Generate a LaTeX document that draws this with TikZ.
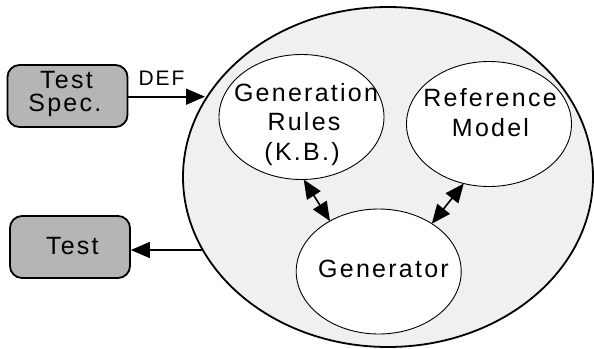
\documentclass[tikz,border=0pt]{standalone}
\usepackage{fontspec}
\setmainfont{Liberation Sans}[LetterSpace=9]
\usetikzlibrary{shapes.geometric,arrows.meta}
\definecolor{boxgray}{gray}{0.71}
\definecolor{sysgray}{gray}{0.94}
\begin{document}
\begin{tikzpicture}[x=1pt,y=-1pt,
  ell/.style={ellipse,draw,fill=white,line width=0.9pt,inner sep=0pt,outer sep=0pt,minimum width=165pt,minimum height=125pt},
  box/.style={draw,rounded corners=12pt,fill=boxgray,line width=1.8pt,minimum width=120pt,minimum height=62pt,inner sep=0pt},
  txt/.style={font=\fontsize{25}{30}\selectfont,inner sep=0pt,anchor=base},
  lbl/.style={font=\fontsize{21}{25}\selectfont,inner sep=0pt,anchor=base},
  arr/.style={line width=1.6pt,-{Triangle[length=19pt,width=16pt]}},
  darr/.style={line width=1.6pt,{Triangle[length=19pt,width=16pt]}-{Triangle[length=19pt,width=16pt]}}]
\useasboundingbox (0,0) rectangle (594,348);

% system ellipse
\node[ellipse,draw,fill=sysgray,line width=1.8pt,inner sep=0pt,outer sep=0pt,minimum width=410pt,minimum height=340pt] (sys) at (388,177) {};

% inner ellipses
\node[ell] (rules) at (301.5,117) {};
\node[ell] (ref) at (489,124) {};
\node[ell] (gen) at (378.7,271.5) {};

% texts in ellipses
\node[txt] (rulesA) at (306,101.7) {Generation};
\node[txt] (rulesB) at (304,130.7) {Rules};
\node[txt] (rulesC) at (302,160) {(K.B.)};
\node[txt] (refA) at (490,106) {Reference};
\node[txt] (refB) at (490.5,136) {Model};
\node[txt] (genT) at (383.5,277.3) {Generator};

% boxes
\node[box] (spec) at (67.5,96) {};
\node[txt] (specA) at (66.5,88.3) {Test};
\node[txt] (specB) at (64.8,111.7) {Spec.};
\node[box] (test) at (70,247) {};
\node[txt] (testT) at (72.3,254.3) {Test};

% connectors
\coordinate (defend) at (205,96.7);
\coordinate (teststart) at (203,250);
\draw[arr] (spec.east |- defend) -- (defend);
\node[lbl] (def) at (161.5,85) {DEF};
\draw[arr] (teststart) -- (test.east |- teststart);
\draw[darr] (rules.-88) -- (gen.134);
\draw[darr] (ref.-113.5) -- (gen.42);
\end{tikzpicture}
\end{document}
